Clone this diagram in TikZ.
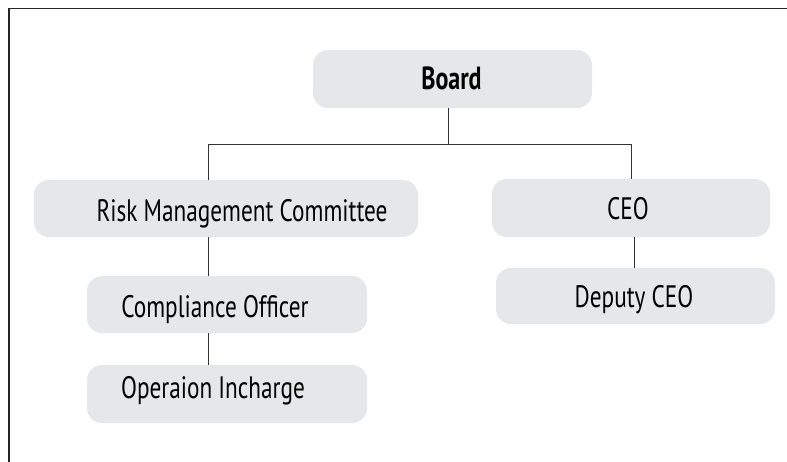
\documentclass[tikz,border=0pt]{standalone}
\usepackage{fontspec}
\setmainfont[FakeStretch=0.75]{PT Sans}
\begin{document}
\begin{tikzpicture}[x=1pt,y=-1pt,
  box/.style={fill=boxgray,rounded corners=15pt,minimum width=#1,inner sep=0pt},
  lbl/.style={anchor=base,inner sep=0pt,font=\fontsize{31}{36}\selectfont,text=black},
  conn/.style={draw=black!80,line width=1pt}]
\definecolor{boxgray}{HTML}{E6E7E8}
\useasboundingbox (0,0) rectangle (787,462);
\draw[line width=1.6pt,black!85] (9,462) -- (9,8.5) -- (787,8.5);
% boxes
\node[box=279pt,minimum height=58pt] (board) at (452.5,79) {};
\node[box=384pt,minimum height=57pt] (rmc) at (226,208.5) {};
\node[box=278pt,minimum height=58pt] (ceo) at (631,208) {};
\node[box=280pt,minimum height=57pt] (co) at (227,304.5) {};
\node[box=279pt,minimum height=56pt] (dceo) at (635.5,296) {};
\node[box=280pt,minimum height=58pt] (oi) at (227,394) {};
% labels
\node[lbl,font=\fontsize{32}{36}\selectfont\bfseries] (tboard) at (451.5,90) {Board};
\node[lbl] (trmc) at (242,222) {Risk Management Committee};
\node[lbl] (tceo) at (628,220) {CEO};
\node[lbl] (tco) at (215,317) {Compliance Officer};
\node[lbl] (tdceo) at (634,308) {Deputy CEO};
\node[lbl] (toi) at (213,398) {Operaion Incharge};
% connectors
\coordinate (j) at (448,145);
\coordinate (jL) at (208,145);
\coordinate (jR) at (631,145);
\coordinate (k) at (634,0);
\draw[conn] (board.south -| j) -- (j);
\draw[conn] (jL |- rmc.north) -- (jL) -- (jR) -- (jR |- ceo.north);
\draw[conn] (jL |- rmc.south) -- (jL |- co.north);
\draw[conn] (jL |- co.south) -- (jL |- oi.north);
\draw[conn] (k |- ceo.south) -- (k |- dceo.north);
\end{tikzpicture}
\end{document}
